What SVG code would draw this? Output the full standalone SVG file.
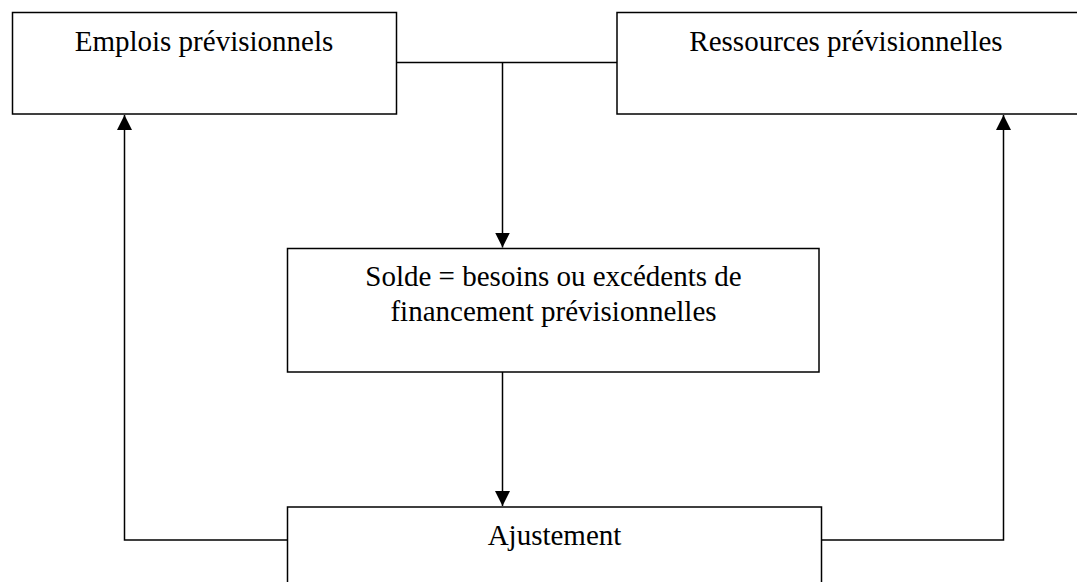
<svg xmlns="http://www.w3.org/2000/svg" width="1077" height="582" viewBox="0 0 1077 582">
  <style>
    .box { fill: #ffffff; stroke: #000000; stroke-width: 1.5; }
    .lbl { font-family: "Liberation Serif", "Times New Roman", serif; font-size: 29px; fill: #000000; text-anchor: middle; }
    .wire { fill: none; stroke: #000000; stroke-width: 1.5; }
  </style>
  <defs>
    <marker id="arrow" markerUnits="userSpaceOnUse" markerWidth="16" markerHeight="16" refX="15" refY="7.5" orient="auto">
      <path d="M0,0 L15,7.5 L0,15 Z" fill="#000000"/>
    </marker>
  </defs>
  <rect width="1077" height="582" fill="#ffffff"/>

  <g id="emplois">
    <rect class="box" x="12.5" y="12.5" width="384" height="101.5"/>
    <text class="lbl" x="204" y="51">Emplois prévisionnels</text>
  </g>

  <g id="ressources">
    <rect class="box" x="617" y="12.5" width="462" height="101.5"/>
    <text class="lbl" x="846" y="51">Ressources prévisionnelles</text>
  </g>

  <g id="solde">
    <rect class="box" x="287.5" y="248.5" width="531.5" height="123.5"/>
    <text class="lbl" x="553.5" y="285.5">Solde = besoins ou excédents de</text>
    <text class="lbl" x="553.5" y="320.5">financement prévisionnelles</text>
  </g>

  <g id="ajustement">
    <rect class="box" x="287.5" y="507" width="534" height="90"/>
    <text class="lbl" x="554.5" y="545">Ajustement</text>
  </g>

  <g id="connectors">
    <path class="wire" d="M396.5,62.5 H617"/>
    <path class="wire" d="M502.5,62.5 V247.5" marker-end="url(#arrow)"/>
    <path class="wire" d="M502.5,372 V506" marker-end="url(#arrow)"/>
    <path class="wire" d="M287.5,540 H124.5 V115" marker-end="url(#arrow)"/>
    <path class="wire" d="M821.5,540 H1003.5 V115" marker-end="url(#arrow)"/>
  </g>
</svg>
